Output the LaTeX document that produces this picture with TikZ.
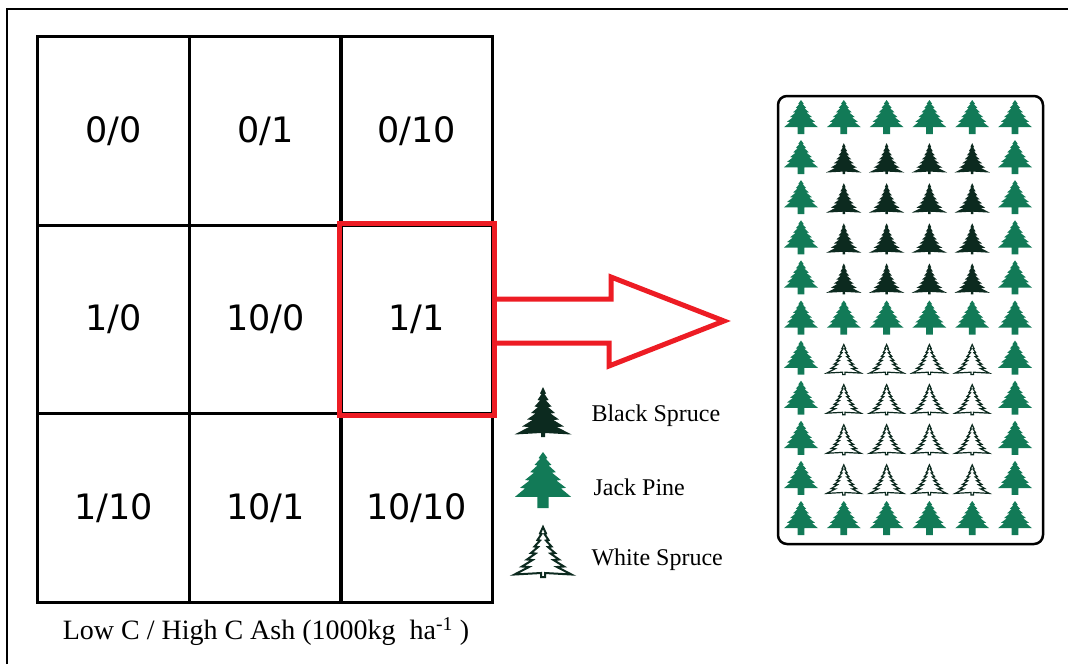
\documentclass[tikz,border=0pt]{standalone}
\usepackage{fontspec}
\setmainfont{Liberation Serif}
\newfontfamily\cellfont{DejaVu Sans}
\usepackage{tikz}

\definecolor{pinegreen}{RGB}{18,122,87}
\definecolor{sprucedark}{RGB}{12,42,31}
\definecolor{boxred}{RGB}{237,28,36}

\tikzset{
	treesize/.style={xscale=#1, yscale=-#1},
	cell/.style={draw, line width=3pt, minimum width=152pt, minimum height=188.5pt,
		font=\cellfont\fontsize{35}{40}\selectfont},
	legend/.style={anchor=west, font=\fontsize{24}{28}\selectfont},
	% tree outlines, base at (0,0), height 1
	pics/jackpine/.style={code={
		\fill[pinegreen] (0,1) -- (0.08,0.89) -- (0.05,0.88) -- (0.15,0.77) -- (0.10,0.76)
			-- (0.23,0.64) -- (0.16,0.63) -- (0.32,0.50) -- (0.24,0.49) -- (0.41,0.36)
			-- (0.32,0.35) -- (0.5,0.2) -- (0.1,0.2) -- (0.1,0) -- (-0.1,0) -- (-0.1,0.2)
			-- (-0.5,0.2) -- (-0.32,0.35) -- (-0.41,0.36) -- (-0.24,0.49) -- (-0.32,0.50)
			-- (-0.16,0.63) -- (-0.23,0.64) -- (-0.10,0.76) -- (-0.15,0.77) -- (-0.05,0.88)
			-- (-0.08,0.89) -- cycle;
	}},
	pics/spruce/.style={code={
		\path[pic actions] (0,1) -- (0.06,0.87) -- (0.03,0.86) -- (0.11,0.74) -- (0.06,0.73)
			-- (0.17,0.61) -- (0.10,0.60) -- (0.24,0.48) -- (0.15,0.47) -- (0.32,0.35)
			-- (0.21,0.34) -- (0.42,0.21) -- (0.28,0.20) -- (0.57,0.05) -- (0.04,0.08)
			-- (0.04,0) -- (-0.04,0) -- (-0.04,0.08) -- (-0.57,0.05) -- (-0.28,0.20)
			-- (-0.42,0.21) -- (-0.21,0.34) -- (-0.32,0.35) -- (-0.15,0.47) -- (-0.24,0.48)
			-- (-0.10,0.60) -- (-0.17,0.61) -- (-0.06,0.73) -- (-0.11,0.74) -- (-0.03,0.86)
			-- (-0.06,0.87) -- cycle;
	}},
}

\begin{document}
\begin{tikzpicture}[x=1pt, y=-1pt]
		\useasboundingbox (0,0) rectangle (1068,664);

		% frame
		\draw[line width=2pt] (7,664) -- (7,9) -- (1068,9);

		% ash treatments
		\node[cell] (c11) at (113.5,131) {0/0};
		\node[cell] (c12) at (265.5,131) {0/1};
		\node[cell] (c13) at (416.5,131) {0/10};
		\node[cell] (c21) at (113.5,319.5) {1/0};
		\node[cell] (c22) at (265.5,319.5) {10/0};
		\node[cell] (c23) at (416.5,319.5) {1/1};
		\node[cell] (c31) at (113.5,508) {1/10};
		\node[cell] (c32) at (265.5,508) {10/1};
		\node[cell] (c33) at (416.5,508) {10/10};
		\node[font=\fontsize{28}{32}\selectfont] (caption) at (266,632)
			{Low C / High C Ash (1000kg\ \ ha\textsuperscript{-1} )};

		% selected plot and arrow
		\coordinate (tip) at (724,321);
		\draw[boxred, line width=5pt, line join=miter] (c23.east |- tip) ++(0,-22) -- ++(117,0)
			-- ++(0,-22) -- (tip) -- ++(-115,45) -- ++(0,-23) -- ++(-117,0);
		\draw[boxred, line width=5pt] (c23.north west) rectangle (c23.south east);

		% legend
		\pic[fill=sprucedark, treesize=50] at (543,437) {spruce};
		\pic[treesize=56] at (543,508) {jackpine};
		\pic[draw=sprucedark, fill=white, line width=2pt, treesize=50] at (543,577) {spruce};
		\node[legend] (lblack) at (588,416) {Black Spruce};
		\node[legend] (ljack) at (590,487) {Jack Pine};
		\node[legend] (lwhite) at (588,560) {White Spruce};

		% planting layout
		\node[draw, line width=2.5pt, rounded corners=9pt, minimum width=265pt,
			minimum height=448pt] (panel) at (910.5,320) {};
		\foreach \r in {1,6,11}
			\foreach \c in {1,...,6}
				\pic[treesize=34] at ({801+42.8*(\c-1)},{134+40.1*(\r-1)}) {jackpine};
		\foreach \r in {2,3,4,5,7,8,9,10}
			\foreach \c in {1,6}
				\pic[treesize=34] at ({801+42.8*(\c-1)},{134+40.1*(\r-1)}) {jackpine};
		\foreach \r in {2,...,5}
			\foreach \c in {2,...,5}
				\pic[fill=sprucedark, treesize=31] at ({801+42.8*(\c-1)},{134+40.1*(\r-1)}) {spruce};
		\foreach \r in {7,...,10}
			\foreach \c in {2,...,5}
				\pic[draw=sprucedark, fill=white, line width=1.2pt, treesize=30]
					at ({801+42.8*(\c-1)},{134+40.1*(\r-1)}) {spruce};
	\end{tikzpicture}
\end{document}
